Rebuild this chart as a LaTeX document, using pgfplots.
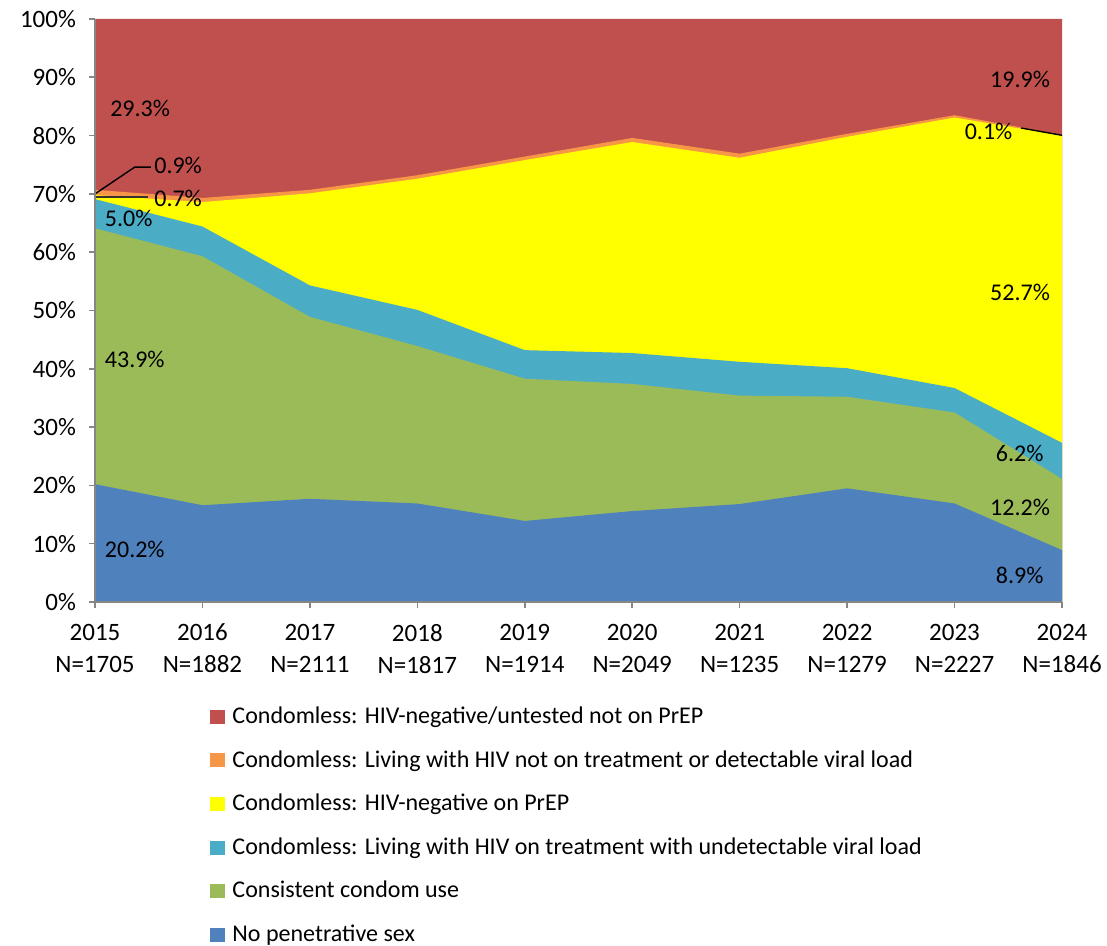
\documentclass[border=0pt]{standalone}
\usepackage{pgfplots}
\pgfplotsset{compat=1.18}
\usepackage{pgfplotstable}
\usepackage{fontspec}
\setmainfont{Carlito}
\definecolor{cRed}{HTML}{C0504D}
\definecolor{cOrange}{HTML}{F79646}
\definecolor{cYellow}{HTML}{FFFF00}
\definecolor{cTeal}{HTML}{4BACC6}
\definecolor{cGreen}{HTML}{9BBB59}
\definecolor{cBlue}{HTML}{4F81BD}
\definecolor{axgray}{HTML}{868686}
\pgfplotstableread{
year blue green teal yellow orange red
2015 20.2 43.9 5.0 0.7 0.9 29.3
2016 16.6 42.7 5.1 4.2 0.7 30.7
2017 17.7 31.2 5.4 15.8 0.6 29.3
2018 16.9 27.0 6.2 22.5 0.6 26.8
2019 13.9 24.4 4.9 32.6 0.6 23.6
2020 15.6 21.8 5.3 36.2 0.7 20.4
2021 16.8 18.6 5.8 35.0 0.7 23.1
2022 19.5 15.7 4.9 39.7 0.5 19.7
2023 16.9 15.6 4.2 46.4 0.4 16.5
2024 8.9 12.2 6.2 52.7 0.1 19.9
}\data
\begin{document}
\begin{tikzpicture}[lbl/.style={font=\fontsize{12}{14}\selectfont, inner sep=1pt, text=black}]
\useasboundingbox (-47.5pt,-172pt) rectangle (506pt,301pt);
\begin{axis}[
  scale only axis, width=483.5pt, height=291.5pt,
  xmin=2015, xmax=2024, ymin=0, ymax=100,
  axis on top,
  axis lines*=left,
  axis line style={draw=axgray, line width=0.8pt},
  tick style={draw=axgray, line width=0.8pt},
  tick align=outside, major tick length=3pt,
  xtick={2015,2016,2017,2018,2019,2020,2021,2022,2023,2024},
  xticklabels={{2015\\[1.5pt]N=1705},{2016\\[1.5pt]N=1882},{2017\\[1.5pt]N=2111},{2018\\[1.5pt]N=1817},{2019\\[1.5pt]N=1914},{2020\\[1.5pt]N=2049},{2021\\[1.5pt]N=1235},{2022\\[1.5pt]N=1279},{2023\\[1.5pt]N=2227},{2024\\[1.5pt]N=1846}},
  ytick={0,10,...,100},
  yticklabel={\pgfmathprintnumber{\tick}\%},
  /pgf/number format/assume math mode=true,
  tick label style={font=\fontsize{12.5}{14.5}\selectfont, text=black},
  xticklabel style={align=center, yshift=-4.5pt},
  yticklabel style={xshift=-3pt},
  legend style={at={(axis description cs:0.119,-0.172)}, anchor=north west, draw=none, fill=none,
    font=\fontsize{12}{14}\selectfont, row sep=8pt, inner sep=0pt},
  legend cell align=left,
  legend image code/.code={\fill[#1] (0pt,-3.5pt) rectangle (7.5pt,3.5pt);},
  /tikz/every odd column/.append style={column sep=1.5pt},
]
\addplot[fill=cRed, draw=none] table[x=year, y expr=\thisrow{blue}+\thisrow{green}+\thisrow{teal}+\thisrow{yellow}+\thisrow{orange}+\thisrow{red}] {\data} \closedcycle;
\addlegendentry{Condomless: HIV-negative/untested not on PrEP}
\addplot[fill=cOrange, draw=none] table[x=year, y expr=\thisrow{blue}+\thisrow{green}+\thisrow{teal}+\thisrow{yellow}+\thisrow{orange}] {\data} \closedcycle;
\addlegendentry{Condomless: Living with HIV not on treatment or detectable viral load}
\addplot[fill=cYellow, draw=none] table[x=year, y expr=\thisrow{blue}+\thisrow{green}+\thisrow{teal}+\thisrow{yellow}] {\data} \closedcycle;
\addlegendentry{Condomless: HIV-negative on PrEP}
\addplot[fill=cTeal, draw=none] table[x=year, y expr=\thisrow{blue}+\thisrow{green}+\thisrow{teal}] {\data} \closedcycle;
\addlegendentry{Condomless: Living with HIV on treatment with undetectable viral load}
\addplot[fill=cGreen, draw=none] table[x=year, y expr=\thisrow{blue}+\thisrow{green}] {\data} \closedcycle;
\addlegendentry{Consistent condom use}
\addplot[fill=cBlue, draw=none] table[x=year, y=blue] {\data} \closedcycle;
\addlegendentry{No penetrative sex}

\node[lbl, anchor=center] at (axis cs:2015.42,84.6) {29.3\%};
\draw[black, line width=0.7pt] (axis cs:2015,70.0) -- (axis cs:2015.37,74.6) -- (axis cs:2015.52,74.6);
\node[lbl, anchor=west] at (axis cs:2015.53,74.8) {0.9\%};
\draw[black!80!olive, line width=0.9pt] (axis cs:2015,69.4) -- (axis cs:2015.49,69.4);
\node[lbl, anchor=west] at (axis cs:2015.53,69.2) {0.7\%};
\node[lbl, anchor=west] at (axis cs:2015.07,65.8) {5.0\%};
\node[lbl, anchor=west] at (axis cs:2015.07,41.6) {43.9\%};
\node[lbl, anchor=west] at (axis cs:2015.07,9.1) {20.2\%};
\node[lbl, anchor=east] at (axis cs:2023.91,89.7) {19.9\%};
\node[lbl, anchor=east] at (axis cs:2023.56,80.8) {0.1\%};
\draw[black, line width=0.7pt] (axis cs:2023.62,81.3) -- (axis cs:2024,80.05);
\node[lbl, anchor=east] at (axis cs:2023.91,53.1) {52.7\%};
\node[lbl, anchor=east] at (axis cs:2023.85,25.5) {6.2\%};
\node[lbl, anchor=east] at (axis cs:2023.91,16.3) {12.2\%};
\node[lbl, anchor=east] at (axis cs:2023.85,4.5) {8.9\%};
\end{axis}
\end{tikzpicture}
\end{document}
